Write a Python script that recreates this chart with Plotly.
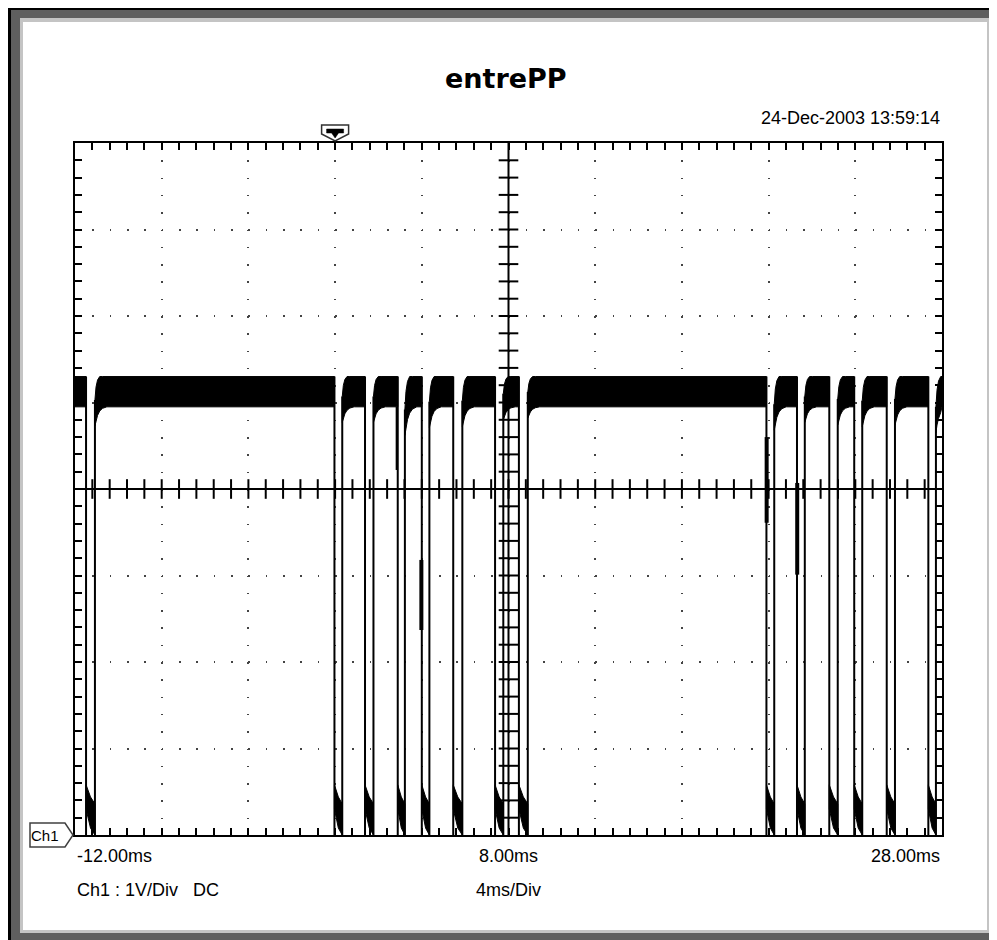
import plotly.graph_objects as go

# ---------------- data ----------------
# falling / rising edges of the low pulses (ms)
fall_ms = [-11.49, -0.03, 1.38, 2.89, 4.00, 5.45, 7.38, 8.48,
           19.90, 21.31, 22.80, 23.95, 25.45, 27.37]
rise_ms = [-11.08, 0.33, 1.77, 3.22, 4.35, 5.87, 7.76, 8.89,
           20.26, 21.67, 23.19, 24.32, 25.83, 27.72]
# lower envelope of the high band right after each rising edge (V)
rise_low_v = [4.73, 4.77, 4.77, 4.62, 4.71, 4.72, 4.80, 4.82,
              4.68, 4.77, 4.74, 4.72, 4.74, 4.65]
# settled high band envelope (V)
high_top_v = 5.30
high_bot_v = 4.95
rec_top_gap_v = 0.30
# recovery profile after a rising edge
rec_dt_ms = [0.0, 0.05, 0.12, 0.22, 0.35, 0.55]
rec_frac_bot = [0.0, 0.30, 0.55, 0.78, 0.92, 1.0]
rec_frac_top = [0.0, 0.55, 0.85, 1.0, 1.0, 1.0]
# low-level tail profile (fraction of the pulse width)
low_pos = [0.0, 0.5, 1.0]
low_top_v = [0.58, 0.44, 0.36]
low_bot_v = [0.30, 0.08, 0.0]
# glitches on some falling edges
thin_glitch_t = [2.84]
thin_glitch_lo = [4.22]
thin_glitch_hi = [4.95]
thick_glitch_t = [3.98, 19.91, 21.32]
thick_glitch_lo = [2.37, 3.61, 3.01]
thick_glitch_hi = [3.18, 4.60, 4.07]

x_tick_vals = [-12, 8, 28]
x_tick_text = ["-12.00ms", "8.00ms", "28.00ms"]
t_min, t_max = -12, 28
v_min, v_max = 0, 8
ms_per_div, v_per_div = 4, 1
trigger_ms = 0.0

# ---------------- geometry helpers (page pixel coords) ----------------
PAGE_W, PAGE_H = 997, 940
OFF = 8  # default page margin of the html body
W, H = PAGE_W - OFF, PAGE_H - OFF
L, R, T, B = 75, 942, 143, 835


def px(x):
    return (x - L) / (R - L)


def py(y):
    return (B - y) / (B - T)


# ---------------- build waveform ----------------
band_x, band_y = [], []
starts = [t_min] + rise_ms
ends = fall_ms + [t_max]
for i, (a, b) in enumerate(zip(starts, ends)):
    if i == 0:
        xs = [a, b]
        top = [high_top_v, high_top_v]
        bot = [high_bot_v, high_bot_v]
    else:
        lo0 = rise_low_v[i - 1]
        hi0 = lo0 + rec_top_gap_v
        xs, top, bot = [], [], []
        for dt, fb, ft in zip(rec_dt_ms, rec_frac_bot, rec_frac_top):
            if a + dt < b:
                xs.append(a + dt)
                bot.append(lo0 + (high_bot_v - lo0) * fb)
                top.append(hi0 + (high_top_v - hi0) * ft)
        xs.append(b)
        bot.append(high_bot_v)
        top.append(high_top_v)
    band_x += xs + xs[::-1] + [xs[0], None]
    band_y += top + bot[::-1] + [top[0], None]

low_x, low_y = [], []
for f, r in zip(fall_ms, rise_ms):
    xs = [f + p * (r - f) for p in low_pos]
    low_x += xs + xs[::-1] + [xs[0], None]
    low_y += low_top_v + low_bot_v[::-1] + [low_top_v[0], None]

edge_x, edge_y = [], []
for f in fall_ms:
    edge_x += [f, f, None]
    edge_y += [high_top_v, v_min, None]
for r, lo in zip(rise_ms, rise_low_v):
    edge_x += [r, r, None]
    edge_y += [v_min, lo + rec_top_gap_v, None]

thin_x, thin_y = [], []
for t, lo, hi in zip(thin_glitch_t, thin_glitch_lo, thin_glitch_hi):
    thin_x += [t, t, None]
    thin_y += [hi, lo, None]
thick_x, thick_y = [], []
for t, lo, hi in zip(thick_glitch_t, thick_glitch_lo, thick_glitch_hi):
    thick_x += [t, t, None]
    thick_y += [hi, lo, None]

fig = go.Figure()
fig.add_trace(go.Scatter(x=band_x, y=band_y, mode="lines", fill="toself",
                         fillcolor="black", line=dict(color="black", width=1),
                         hoverinfo="skip", showlegend=False))
fig.add_trace(go.Scatter(x=low_x, y=low_y, mode="lines", fill="toself",
                         fillcolor="black", line=dict(color="black", width=1),
                         hoverinfo="skip", showlegend=False))
fig.add_trace(go.Scatter(x=edge_x, y=edge_y, mode="lines",
                         line=dict(color="black", width=2),
                         hoverinfo="skip", showlegend=False))
fig.add_trace(go.Scatter(x=thin_x, y=thin_y, mode="lines",
                         line=dict(color="black", width=2),
                         hoverinfo="skip", showlegend=False))
fig.add_trace(go.Scatter(x=thick_x, y=thick_y, mode="lines",
                         line=dict(color="black", width=4),
                         hoverinfo="skip", showlegend=False))

# centre cross ticks
t_center = (t_min + t_max) / 2
v_center = (v_min + v_max) / 2
minor_t = [t_min + k * ms_per_div / 5 for k in range(1, 50)]
minor_v = [v_min + k * v_per_div / 5 for k in range(1, 40)]
fig.add_trace(go.Scatter(x=minor_t, y=[v_center] * len(minor_t), mode="markers",
                         marker=dict(symbol="line-ns", size=14,
                                     line=dict(color="black", width=2)),
                         hoverinfo="skip", showlegend=False))
fig.add_trace(go.Scatter(x=[t_center] * len(minor_v), y=minor_v, mode="markers",
                         marker=dict(symbol="line-ew", size=14,
                                     line=dict(color="black", width=2)),
                         hoverinfo="skip", showlegend=False))

shapes = [
    # window frame
    dict(type="rect", xref="paper", yref="paper", x0=px(8), y0=py(6), x1=px(1010), y1=py(950),
         fillcolor="black", line=dict(width=0), layer="below"),
    dict(type="rect", xref="paper", yref="paper", x0=px(11), y0=py(10), x1=px(1010), y1=py(950),
         fillcolor="#5f5f5f", line=dict(width=0), layer="below"),
    dict(type="rect", xref="paper", yref="paper", x0=px(20), y0=py(18), x1=px(990), y1=py(933),
         fillcolor="#c4c4c4", line=dict(width=0), layer="below"),
    dict(type="rect", xref="paper", yref="paper", x0=px(23), y0=py(22), x1=px(987), y1=py(930),
         fillcolor="white", line=dict(width=0), layer="below"),
    # centre cross
    dict(type="line", xref="x", yref="y", x0=t_center, x1=t_center, y0=v_min, y1=v_max,
         line=dict(color="black", width=2)),
    dict(type="line", xref="x", yref="y", x0=t_min, x1=t_max, y0=v_center, y1=v_center,
         line=dict(color="black", width=2)),
    # Ch1 marker
    dict(type="path", xref="paper", yref="paper",
         path=f"M {px(30)},{py(823)} L {px(65)},{py(823)} L {px(73)},{py(835)} "
              f"L {px(65)},{py(847)} L {px(30)},{py(847)} Z",
         fillcolor="white", line=dict(color="#404040", width=1.5)),
]
# trigger marker
tx = L + (trigger_ms - t_min) / (t_max - t_min) * (R - L)
shapes.append(dict(type="path", xref="paper", yref="paper",
                   path=f"M {px(tx-13.5)},{py(125)} L {px(tx+13.5)},{py(125)} L {px(tx+13.5)},{py(134)} "
                        f"L {px(tx)},{py(141)} L {px(tx-13.5)},{py(134)} Z",
                   fillcolor="white", line=dict(color="#303030", width=1.5)))
shapes.append(dict(type="path", xref="paper", yref="paper",
                   path=f"M {px(tx-8.5)},{py(129)} L {px(tx+8.5)},{py(129)} L {px(tx+8.5)},{py(133)} "
                        f"L {px(tx+3.5)},{py(133)} L {px(tx)},{py(138)} L {px(tx-3.5)},{py(133)} "
                        f"L {px(tx-8.5)},{py(133)} Z",
                   fillcolor="black", line=dict(color="black", width=0.5)))

font = "Liberation Sans, Arial, sans-serif"
ann = [
    dict(text="entrePP", x=px(506), y=py(78.5), xref="paper", yref="paper",
         xanchor="center", yanchor="middle", showarrow=False,
         font=dict(family="DejaVu Sans", size=27, color="black", weight="bold")),
    dict(text="24-Dec-2003 13:59:14", x=px(942), y=py(117.5), xref="paper", yref="paper",
         xanchor="right", yanchor="middle", showarrow=False,
         font=dict(family=font, size=18, color="black")),
    dict(text="Ch1 : 1V/Div\u00a0\u00a0\u00a0DC", x=px(75), y=py(889.5), xref="paper", yref="paper",
         xanchor="left", yanchor="middle", showarrow=False,
         font=dict(family=font, size=18, color="black")),
    dict(text=f"{ms_per_div}ms/Div", x=px(508), y=py(889.5), xref="paper", yref="paper",
         xanchor="center", yanchor="middle", showarrow=False,
         font=dict(family=font, size=18, color="black")),
    dict(text="Ch1", x=px(45), y=py(835), xref="paper", yref="paper",
         xanchor="center", yanchor="middle", showarrow=False,
         font=dict(family=font, size=15, color="black")),
]
for v, txt, anc in zip(x_tick_vals, x_tick_text, ["left", "center", "right"]):
    ann.append(dict(text=txt, x=v, y=py(856), xref="x", yref="paper",
                    xanchor=anc, yanchor="middle", showarrow=False,
                    font=dict(family=font, size=18, color="black")))

axis_common = dict(
    showgrid=True, gridcolor="#444444", gridwidth=1.5,
    ticks="inside", ticklen=7, tickwidth=2, tickcolor="black",
    showticklabels=False, showline=True, linecolor="black", linewidth=2,
    mirror="ticks", zeroline=False, fixedrange=True,
)
fig.update_layout(
    width=W, height=H,
    margin=dict(l=L - OFF, r=PAGE_W - R, t=T - OFF, b=PAGE_H - B, pad=0),
    paper_bgcolor="white", plot_bgcolor="white",
    showlegend=False,
    shapes=shapes, annotations=ann,
    xaxis=dict(range=[t_min, t_max], tickmode="linear", tick0=t_min, dtick=ms_per_div,
               griddash="1.5px,15.8px",
               minor=dict(dtick=ms_per_div / 5, tick0=t_min, ticks="inside", ticklen=7,
                          tickwidth=2, tickcolor="black", showgrid=False),
               **axis_common),
    yaxis=dict(range=[v_min, v_max], tickmode="linear", tick0=v_min, dtick=v_per_div,
               griddash="1.5px,15.84px",
               minor=dict(dtick=v_per_div / 5, tick0=v_min, ticks="inside", ticklen=7,
                          tickwidth=2, tickcolor="black", showgrid=False),
               **axis_common),
)

fig.write_html("out.html")
